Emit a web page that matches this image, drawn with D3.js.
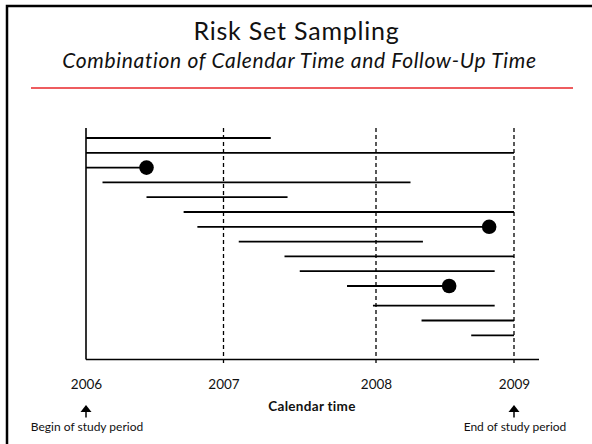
<!DOCTYPE html>
<html>
<head>
<meta charset="utf-8">
<script src="https://cdn.jsdelivr.net/npm/d3@7"></script>
<style>
  html, body { margin: 0; padding: 0; background: #fff; }
  svg { display: block; }
  text { font-family: Lato, "Open Sans", sans-serif; fill: #111; }
</style>
</head>
<body>
<svg id="chart" width="592" height="444"></svg>
<script>
// Calendar years shown on the axis
const years = [2006, 2007, 2008, 2009];
const yearLabels = ["2006", "2007", "2008", "2009"];
// One row per subject: entry and exit in calendar time (decimal years)
const subjects = [1, 2, 3, 4, 5, 6, 7, 8, 9, 10, 11, 12, 13, 14];
const entry = [2006.00, 2006.00, 2006.00, 2006.12, 2006.44, 2006.71, 2006.81,
               2007.10, 2007.40, 2007.50, 2007.81, 2007.98, 2008.33, 2008.69];
const exit  = [2007.31, 2009.00, 2006.44, 2008.25, 2007.42, 2009.00, 2008.82,
               2008.34, 2009.00, 2008.86, 2008.53, 2008.86, 2009.00, 2009.00];
// Whether follow-up ended with an event (case)
const isCase = [false, false, true, false, false, false, true,
                false, false, false, true, false, false, false];
const axisEnd = 2009.18;

const svg = d3.select("#chart");

// slide frame
svg.append("rect")
  .attr("x", 7).attr("y", 6).attr("width", 600).attr("height", 460)
  .attr("fill", "none").attr("stroke", "#000").attr("stroke-width", 2.5);

// headings
svg.append("text")
  .attr("x", 296.5).attr("y", 39.5)
  .attr("text-anchor", "middle")
  .style("font-size", "25px").style("letter-spacing", "0.8px")
  .text("Risk Set Sampling");
svg.append("text")
  .attr("x", 299.5).attr("y", 68)
  .attr("text-anchor", "middle")
  .style("font-size", "21px").style("font-style", "italic")
  .style("letter-spacing", "0.65px")
  .text("Combination of Calendar Time and Follow-Up Time");
svg.append("line")
  .attr("x1", 31).attr("x2", 573).attr("y1", 88).attr("y2", 88)
  .attr("stroke", "#e8262a").attr("stroke-width", 1.6);

// scales (the years on the slide are not evenly spaced)
const x = d3.scaleLinear()
  .domain([years[0], years[1], years[2], years[3], axisEnd])
  .range([86, 223.5, 376, 514, 539]);
const y = d3.scaleLinear()
  .domain([1, 11, 12, 14])
  .range([138, 286, 305.7, 335.3]);

const axisY = 359.5, topY = 128;

// vertical dashed year markers
svg.append("g").selectAll("line")
  .data(years.slice(1))
  .join("line")
  .attr("x1", d => x(d)).attr("x2", d => x(d))
  .attr("y1", topY).attr("y2", 366)
  .attr("stroke", "#000").attr("stroke-width", 1.3)
  .attr("stroke-dasharray", "4,3");

// axes
svg.append("line")
  .attr("x1", x(years[0])).attr("x2", x(years[0]))
  .attr("y1", topY).attr("y2", axisY)
  .attr("stroke", "#000").attr("stroke-width", 1.6);
const xAxis = d3.axisBottom(x)
  .tickValues(years)
  .tickFormat((d, i) => yearLabels[i])
  .tickSize(0).tickPadding(20);
const gx = svg.append("g")
  .attr("transform", `translate(0,${axisY})`)
  .call(xAxis);
gx.select(".domain")
  .attr("d", `M${x(years[0])},0H${x(axisEnd)}`)
  .attr("stroke", "#000").attr("stroke-width", 1.6);
gx.selectAll("text")
  .style("font-family", "Lato, sans-serif")
  .style("font-size", "13.5px").attr("fill", "#111");

// follow-up lines
svg.append("g").selectAll("line")
  .data(subjects)
  .join("line")
  .attr("x1", (d, i) => x(entry[i]))
  .attr("x2", (d, i) => x(exit[i]))
  .attr("y1", d => y(d)).attr("y2", d => y(d))
  .attr("stroke", "#000").attr("stroke-width", 1.8);

// events
svg.append("g").selectAll("circle")
  .data(subjects.filter((d, i) => isCase[i]))
  .join("circle")
  .attr("cx", d => x(exit[d - 1]))
  .attr("cy", d => y(d))
  .attr("r", 7.3)
  .attr("fill", "#000");

// axis title
svg.append("text")
  .attr("x", 312).attr("y", 411)
  .attr("text-anchor", "middle")
  .style("font-size", "13.5px").style("font-weight", "bold")
  .style("letter-spacing", "0.3px")
  .text("Calendar time");

// study period markers
const marks = [
  { year: years[0], label: "Begin of study period" },
  { year: years[3], label: "End of study period" }
];
const gm = svg.append("g").selectAll("g")
  .data(marks)
  .join("g")
  .attr("transform", d => `translate(${x(d.year)},0)`);
gm.append("path")
  .attr("d", "M0,405L-5.5,412L5.5,412Z")
  .attr("fill", "#000");
gm.append("line")
  .attr("x1", 0).attr("x2", 0).attr("y1", 410).attr("y2", 417.5)
  .attr("stroke", "#000").attr("stroke-width", 1.5);
gm.append("text")
  .attr("x", 1).attr("y", 431)
  .attr("text-anchor", "middle")
  .style("font-size", "12px")
  .text(d => d.label);
</script>
</body>
</html>
